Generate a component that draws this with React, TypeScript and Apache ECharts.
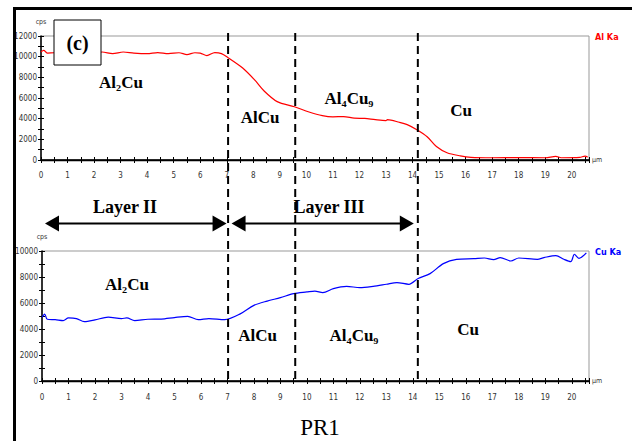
import React, { useEffect, useRef } from "react";
import * as echarts from "echarts";

// ---- data ----
const xTop = [0, 0.1, 0.25, 0.5, 1.0, 1.5, 2.0, 2.3, 2.7, 3.1, 3.5, 4.0, 4.4, 4.8, 5.2, 5.5, 5.8, 6.0, 6.25, 6.55, 6.8, 7.05, 7.6, 8.05, 8.4, 8.9, 9.55, 10.1, 10.6, 11.0, 11.4, 11.8, 12.2, 12.6, 13.0, 13.05, 13.5, 13.8, 14.18, 14.55, 14.9, 15.3, 15.8, 16.2, 17.0, 18.0, 19.0, 19.4, 19.6, 20.3, 20.5, 20.6];
const alKa = [10450, 10600, 10350, 10380, 10320, 10400, 10350, 10450, 10300, 10450, 10350, 10300, 10400, 10300, 10380, 10200, 10380, 10350, 10100, 10400, 10300, 9900, 8900, 7750, 6700, 5650, 5150, 4650, 4300, 4180, 4200, 4050, 4020, 3900, 3820, 3900, 3650, 3420, 2900, 2250, 1300, 700, 400, 260, 220, 230, 220, 350, 220, 250, 380, 280];

const xBot = [0, 0.1, 0.2, 0.5, 0.8, 1.0, 1.3, 1.6, 2.0, 2.5, 3.0, 3.2, 3.5, 4.0, 4.5, 5.0, 5.5, 5.9, 6.3, 6.9, 7.5, 8.0, 8.5, 9.0, 9.5, 10.0, 10.3, 10.6, 11.0, 11.5, 12.0, 12.5, 13.0, 13.4, 13.85, 14.2, 14.65, 15.15, 15.65, 16.3, 16.7, 17.05, 17.3, 17.7, 18.0, 18.7, 18.95, 19.4, 19.7, 19.96, 20.1, 20.27, 20.55];
const cuKa = [4900, 5150, 4750, 4720, 4650, 4850, 4800, 4570, 4700, 4920, 4800, 4850, 4640, 4750, 4760, 4880, 4970, 4720, 4800, 4720, 5180, 5820, 6150, 6410, 6720, 6850, 6920, 6800, 7110, 7280, 7180, 7280, 7440, 7570, 7440, 7880, 8260, 9030, 9360, 9410, 9460, 9340, 9490, 9230, 9460, 9360, 9490, 9650, 9360, 9180, 9750, 9440, 9850];

const xMax = 20.65;
const topYMax = 12000;
const botYMax = 10000;
const boundaries = [7.05, 9.58, 14.2];
const phaseNames = ["Al₂Cu", "AlCu", "Al₄Cu₉", "Cu"];
const layerNames = ["Layer II", "Layer III"];
const seriesNames = ["Al Ka", "Cu Ka"];
const seriesColors = ["#ff0000", "#0000ff"];

const NARROW = "'Liberation Sans Narrow','DejaVu Sans Condensed',Arial,sans-serif";
const SERIF = "'Liberation Serif','Times New Roman',serif";

function xAxesFor(g: number, labelMargin: number) {
  const common = { type: "value", gridIndex: g, min: 0, max: xMax, interval: 1, splitLine: { show: false } };
  return [
    {
      ...common,
      position: "bottom",
      axisLine: { show: true, lineStyle: { color: "#000", width: 1.5 } },
      axisTick: { show: true, length: 3, lineStyle: { color: "#000", width: 1 } },
      minorTick: { show: true, splitNumber: 2, length: 3, lineStyle: { color: "#000", width: 1 } },
      axisLabel: {
        margin: labelMargin, fontSize: 8, fontFamily: NARROW, color: "#333",
        formatter: (v: number) => (Number.isInteger(v) ? String(v) : ""),
      },
      name: "µm", nameLocation: "end", nameGap: 3,
      nameTextStyle: { fontSize: 7, fontFamily: NARROW, color: "#333", padding: [0, 0, 5, 0] },
    },
    {
      ...common,
      position: "top",
      axisLine: { show: true, lineStyle: { color: "#000", width: 1.3 } },
      axisTick: { show: false }, axisLabel: { show: false },
    },
    {
      ...common,
      position: "bottom",
      axisLine: { show: false },
      axisTick: { show: true, inside: true, length: 3, lineStyle: { color: "#000", width: 1 } },
      minorTick: { show: true, splitNumber: 2, length: 3, lineStyle: { color: "#000", width: 1 } },
      axisLabel: { show: false },
    },
  ];
}

function yAxesFor(g: number, yMax: number) {
  const common = { type: "value", gridIndex: g, min: 0, max: yMax, interval: 2000, splitLine: { show: false }, position: "left" };
  return [
    {
      ...common,
      axisLine: { show: true, lineStyle: { color: "#000", width: 1.5 } },
      axisTick: { show: true, length: 3, lineStyle: { color: "#000", width: 1 } },
      minorTick: { show: true, splitNumber: 2, length: 3, lineStyle: { color: "#000", width: 1 } },
      axisLabel: { margin: 4, fontSize: 8, fontFamily: NARROW, color: "#333", formatter: (v: number) => String(v) },
      name: "cps", nameLocation: "end", nameGap: 11,
      nameTextStyle: { fontSize: 7, fontFamily: NARROW, color: "#333" },
    },
    {
      ...common,
      axisLine: { show: false },
      axisTick: { show: true, inside: true, length: 3, lineStyle: { color: "#000", width: 1 } },
      minorTick: { show: true, splitNumber: 2, length: 3, lineStyle: { color: "#000", width: 1 } },
      axisLabel: { show: false },
    },
  ];
}

function phaseText(text: string, x: number, y: number) {
  return {
    type: "text", x, y, z: 20,
    style: {
      text, fill: "#000", font: `bold 17px ${SERIF}`,
      textAlign: "center", textVerticalAlign: "middle",
    },
  };
}

export default function App() {
  const ref = useRef<HTMLDivElement>(null);
  useEffect(() => {
    if (!ref.current) return;
    const chart = echarts.init(ref.current, undefined, { renderer: "svg" });
    chart.setOption({
      animation: false,
      backgroundColor: "#fff",
      grid: [
        { left: 41, top: 36, width: 548, height: 124, show: true, borderColor: "#999", borderWidth: 1, backgroundColor: "transparent" },
        { left: 42, top: 251, width: 547, height: 130, show: true, borderColor: "#999", borderWidth: 1, backgroundColor: "transparent" },
      ],
      xAxis: [...xAxesFor(0, 11), ...xAxesFor(1, 12)],
      yAxis: [...yAxesFor(0, topYMax), ...yAxesFor(1, botYMax)],
      series: [
        {
          name: seriesNames[0], type: "line", xAxisIndex: 0, yAxisIndex: 0,
          data: xTop.map((x, i) => [x, alKa[i]]), showSymbol: false, smooth: 0.3,
          lineStyle: { color: seriesColors[0], width: 1.2 }, itemStyle: { color: seriesColors[0] },
        },
        {
          name: seriesNames[1], type: "line", xAxisIndex: 3, yAxisIndex: 2,
          data: xBot.map((x, i) => [x, cuKa[i]]), showSymbol: false, smooth: 0.3,
          lineStyle: { color: seriesColors[1], width: 1.2 }, itemStyle: { color: seriesColors[1] },
        },
      ],
    });

    const xp = (v: number) => chart.convertToPixel({ xAxisIndex: 0 }, v) as unknown as number;
    const bx = boundaries.map(xp);
    const x0 = xp(0);
    const arrowY = 223.5;
    const hl = 14, hh = 8;
    const arrow = (a: number, b: number) => [
      { type: "line", z: 15, shape: { x1: a + hl - 1, y1: arrowY, x2: b - hl + 1, y2: arrowY }, style: { stroke: "#000", lineWidth: 2.2 } },
      { type: "polygon", z: 15, shape: { points: [[a, arrowY], [a + hl, arrowY - hh], [a + hl, arrowY + hh]] }, style: { fill: "#000" } },
      { type: "polygon", z: 15, shape: { points: [[b, arrowY], [b - hl, arrowY - hh], [b - hl, arrowY + hh]] }, style: { fill: "#000" } },
    ];

    const graphic: any[] = [
      // outer frame
      { type: "line", z: 30, shape: { x1: 13, y1: 8.5, x2: 632, y2: 8.5 }, style: { stroke: "#000", lineWidth: 3 } },
      { type: "line", z: 30, shape: { x1: 14.5, y1: 7, x2: 14.5, y2: 441 }, style: { stroke: "#000", lineWidth: 3 } },
      // (c) box
      { type: "rect", z: 25, shape: { x: 54, y: 20, width: 47, height: 45 }, style: { fill: "#fff", stroke: "#000", lineWidth: 1 } },
      { type: "text", z: 26, x: 77.5, y: 43, style: { text: "(c)", font: `bold 20px ${SERIF}`, fill: "#000", textAlign: "center", textVerticalAlign: "middle" } },
      // boundaries
      ...bx.map((x) => ({
        type: "line", z: 12, shape: { x1: x, y1: 33, x2: x, y2: 384 },
        style: { stroke: "#000", lineWidth: 2, lineDash: [8, 5] },
      })),
      // layer arrows
      ...arrow(x0 + 4, bx[0] - 1.5),
      ...arrow(bx[0] + 3.5, bx[2] - 4),
      { type: "text", z: 16, x: 125, y: 207, style: { text: layerNames[0], font: `bold 18px ${SERIF}`, fill: "#000", textAlign: "center", textVerticalAlign: "middle" } },
      { type: "text", z: 16, x: 329, y: 207, style: { text: layerNames[1], font: `bold 18px ${SERIF}`, fill: "#000", textAlign: "center", textVerticalAlign: "middle" } },
      // phase labels top
      phaseText(phaseNames[0], 121, 82.5),
      phaseText(phaseNames[1], 260, 117),
      phaseText(phaseNames[2], 349, 98),
      phaseText(phaseNames[3], 461, 110),
      // phase labels bottom
      phaseText(phaseNames[0], 127, 284),
      phaseText(phaseNames[1], 257.5, 335.5),
      phaseText(phaseNames[2], 354, 335),
      phaseText(phaseNames[3], 468, 329),
      // series labels
      { type: "text", z: 16, x: 595, y: 37, style: { text: seriesNames[0], font: `bold 9px ${NARROW}`, fill: seriesColors[0], textAlign: "left", textVerticalAlign: "middle" } },
      { type: "text", z: 16, x: 595, y: 252, style: { text: seriesNames[1], font: `bold 9px ${NARROW}`, fill: seriesColors[1], textAlign: "left", textVerticalAlign: "middle" } },
      // caption
      { type: "text", z: 16, x: 320, y: 427.5, style: { text: "PR1", font: `23px ${SERIF}`, fill: "#000", textAlign: "center", textVerticalAlign: "middle" } },
    ];
    chart.setOption({ graphic });
    return () => chart.dispose();
  }, []);
  return <div ref={ref} style={{ position: "fixed", left: 0, top: 0, width: 632, height: 441 }} />;
}
